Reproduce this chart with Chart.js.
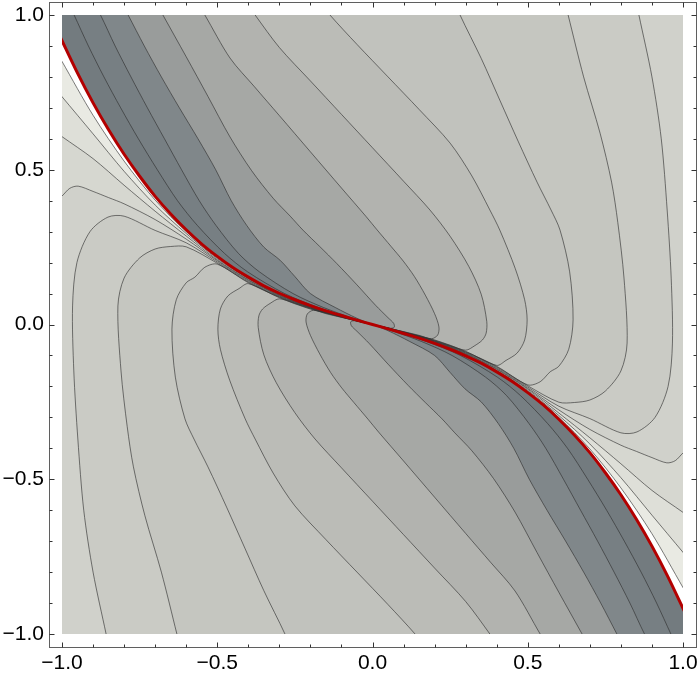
<!DOCTYPE html>
<html><head><meta charset="utf-8">
<script src="https://cdn.jsdelivr.net/npm/chart.js@4.4.1/dist/chart.umd.min.js"></script>
<style>html,body{margin:0;padding:0;background:#fff;}canvas{display:block;}</style>
</head><body>
<canvas id="c" width="700" height="676"></canvas>
<script>
// ---- data (x, y pairs) ----
const plotRange = [-1, 1];
const majorTicks = [-1, -0.5, 0, 0.5, 1];
const minorTicks = [-0.9,-0.8,-0.7,-0.6,-0.4,-0.3,-0.2,-0.1,0.1,0.2,0.3,0.4,0.6,0.7,0.8,0.9];

const redCurve = [[-1.02,0.96],[-1,0.917],[-0.95,0.812],[-0.9,0.716],[-0.85,0.629],[-0.8,0.55],[-0.75,0.479],[-0.7,0.414],[-0.65,0.357],[-0.6,0.306],[-0.55,0.26],[-0.5,0.22],[-0.45,0.184],[-0.4,0.153],[-0.35,0.125],[-0.3,0.101],[-0.25,0.08],[-0.2,0.061],[-0.15,0.044],[-0.1,0.029],[-0.05,0.014],[0,0],[0.05,-0.014],[0.1,-0.029],[0.15,-0.044],[0.2,-0.061],[0.25,-0.08],[0.3,-0.101],[0.35,-0.125],[0.4,-0.153],[0.45,-0.184],[0.5,-0.22],[0.55,-0.26],[0.6,-0.306],[0.65,-0.357],[0.7,-0.414],[0.75,-0.479],[0.8,-0.55],[0.85,-0.629],[0.9,-0.716],[0.95,-0.812],[1,-0.917],[1.02,-0.96]];

// upper-half contours, darkest side first
const U1 = [[-0.98,1.04],[-0.961,1.0],[-0.915,0.9],[-0.865,0.8],[-0.811,0.7],[-0.754,0.6],[-0.693,0.5],[-0.628,0.4],[-0.564,0.32],[-0.477,0.23],[-0.402,0.17],[-0.283,0.1],[-0.174,0.055],[-0.067,0.02],[0,0]];
const U2 = [[-0.9,1.04],[-0.876,1.0],[-0.829,0.9],[-0.778,0.8],[-0.725,0.7],[-0.67,0.6],[-0.615,0.5],[-0.558,0.4],[-0.504,0.32],[-0.432,0.23],[-0.364,0.17],[-0.256,0.1],[-0.158,0.055],[-0.062,0.02],[0,0]];
const U3 = [[-0.808,1.04],[-0.787,1.0],[-0.735,0.9],[-0.68,0.8],[-0.622,0.7],[-0.562,0.6],[-0.505,0.5],[-0.455,0.4],[-0.405,0.32],[-0.35,0.25],[-0.298,0.208],[-0.25,0.155],[-0.2,0.1],[-0.12,0.055],[-0.05,0.02],[0,0]];
const U4 = [[-0.697,1.04],[-0.675,1.0],[-0.6,0.865],[-0.53,0.737],[-0.459,0.606],[-0.39,0.498],[-0.32,0.408],[-0.265,0.35],[-0.224,0.305],[-0.17,0.252],[-0.115,0.197],[-0.05,0.128],[0.01,0.062],[0.05,0.022],[0.068,0.004],[0.07,-0.009],[0.058,-0.012],[0.03,-0.0055],[0,0]];
const U5 = [[-0.565,1.04],[-0.54,1.0],[-0.459,0.861],[-0.38,0.768],[-0.3,0.675],[-0.2,0.558],[-0.1,0.441],[-0.02,0.348],[0.0145,0.306],[0.06,0.252],[0.099,0.205],[0.135,0.155],[0.17,0.095],[0.2,0.035],[0.214,-0.008],[0.21,-0.034],[0.19,-0.046],[0.15,-0.035],[0.1,-0.023],[0.05,-0.0118],[0,0]];
const U6 = [[-0.405,1.04],[-0.378,1.0],[-0.3,0.895],[-0.2,0.787],[-0.1,0.679],[0,0.571],[0.1,0.463],[0.185,0.37],[0.25,0.285],[0.31,0.188],[0.35,0.098],[0.368,0.01],[0.366,-0.028],[0.354,-0.05],[0.33,-0.068],[0.3,-0.083],[0.25,-0.067],[0.2,-0.05],[0.1,-0.0236],[0.05,-0.0113],[0,0]];
const U7 = [[-0.167,1.04],[-0.137,1.0],[-0.05,0.905],[0.05,0.8],[0.15,0.695],[0.25,0.586],[0.32,0.48],[0.378,0.37],[0.41,0.305],[0.46,0.18],[0.49,0.08],[0.498,0.015],[0.49,-0.05],[0.466,-0.092],[0.43,-0.116],[0.4,-0.132],[0.3,-0.0866],[0.2,-0.0514],[0.1,-0.0242],[0.05,-0.0116],[0,0]];
const U8 = [[0.268,1.04],[0.282,1.0],[0.35,0.86],[0.41,0.725],[0.47,0.59],[0.53,0.46],[0.575,0.37],[0.604,0.305],[0.635,0.17],[0.646,0.015],[0.632,-0.08],[0.6,-0.135],[0.572,-0.153],[0.54,-0.185],[0.5,-0.195],[0.4,-0.135],[0.3,-0.0884],[0.2,-0.0526],[0.1,-0.0248],[0.05,-0.0119],[0,0]];
const U9 = [[0.62,1.04],[0.63,1.0],[0.68,0.8],[0.733,0.618],[0.77,0.46],[0.79,0.33],[0.81,0.15],[0.82,-0.06],[0.8,-0.15],[0.75,-0.215],[0.7,-0.244],[0.65,-0.252],[0.6,-0.251],[0.5,-0.198],[0.4,-0.137],[0.3,-0.09],[0.2,-0.0538],[0.1,-0.0254],[0.05,-0.0122],[0,0]];
const U10 = [[0.85,1.04],[0.858,1.0],[0.9,0.8],[0.93,0.6],[0.949,0.37],[0.962,0.15],[0.966,-0.06],[0.952,-0.2],[0.91,-0.3],[0.852,-0.347],[0.8,-0.35],[0.7,-0.304],[0.6,-0.264],[0.5,-0.202],[0.4,-0.14],[0.3,-0.092],[0.2,-0.055],[0.1,-0.026],[0.05,-0.0125],[0,0]];
const UF = [[1.04,-0.38],[1.0,-0.415],[0.975,-0.44],[0.948,-0.447],[0.9,-0.43],[0.85,-0.41],[0.8,-0.39],[0.7,-0.339],[0.6,-0.276],[0.5,-0.206],[0.4,-0.143],[0.3,-0.094],[0.2,-0.056],[0.1,-0.027],[0.05,-0.013],[0,0]];
const G1 = [[1.04,-0.636],[1.0,-0.607],[0.9,-0.536],[0.8,-0.45],[0.7,-0.366],[0.6,-0.286],[0.5,-0.209],[0.4,-0.145],[0.3,-0.0956],[0.2,-0.0574],[0.1,-0.0272],[0.05,-0.0132],[0,0]];
const G2 = [[1.04,-0.784],[1.0,-0.736],[0.9,-0.616],[0.8,-0.495],[0.7,-0.386],[0.6,-0.294],[0.5,-0.213],[0.4,-0.148],[0.3,-0.0974],[0.2,-0.0586],[0.1,-0.0278],[0.05,-0.0135],[0,0]];
const G3 = [[1.04,-0.92],[1.0,-0.85],[0.9,-0.676],[0.8,-0.528],[0.7,-0.402],[0.6,-0.3],[0.5,-0.2164],[0.4,-0.1504],[0.3,-0.0992],[0.2,-0.0598],[0.1,-0.0284],[0.05,-0.0137],[0,0]];

// lower-half contours, darkest side first
const V1 = [[0.98,-1.04],[0.961,-1.0],[0.915,-0.9],[0.865,-0.8],[0.811,-0.7],[0.754,-0.6],[0.693,-0.5],[0.628,-0.4],[0.564,-0.32],[0.477,-0.23],[0.402,-0.17],[0.283,-0.1],[0.174,-0.055],[0.067,-0.02],[0,0]];
const V2 = [[0.9,-1.04],[0.876,-1.0],[0.829,-0.9],[0.778,-0.8],[0.725,-0.7],[0.67,-0.6],[0.615,-0.5],[0.558,-0.4],[0.504,-0.32],[0.432,-0.23],[0.364,-0.17],[0.256,-0.1],[0.158,-0.055],[0.062,-0.02],[0,0]];
const V3 = [[0.808,-1.04],[0.787,-1.0],[0.735,-0.9],[0.68,-0.8],[0.622,-0.7],[0.562,-0.6],[0.505,-0.5],[0.455,-0.4],[0.405,-0.32],[0.35,-0.25],[0.298,-0.208],[0.25,-0.155],[0.2,-0.1],[0.12,-0.055],[0.05,-0.02],[0,0]];
const V4 = [[0.697,-1.04],[0.675,-1.0],[0.6,-0.865],[0.53,-0.737],[0.459,-0.606],[0.39,-0.498],[0.32,-0.408],[0.265,-0.35],[0.224,-0.305],[0.17,-0.252],[0.115,-0.197],[0.05,-0.128],[-0.01,-0.062],[-0.05,-0.022],[-0.068,-0.004],[-0.07,0.009],[-0.058,0.012],[-0.03,0.0055],[0,0]];
const V5 = [[0.565,-1.04],[0.54,-1.0],[0.459,-0.861],[0.38,-0.768],[0.3,-0.675],[0.2,-0.558],[0.1,-0.441],[0.02,-0.348],[-0.0145,-0.306],[-0.06,-0.252],[-0.099,-0.205],[-0.135,-0.155],[-0.17,-0.095],[-0.2,-0.035],[-0.214,0.008],[-0.21,0.034],[-0.19,0.046],[-0.15,0.035],[-0.1,0.023],[-0.05,0.0118],[0,0]];
const V6 = [[0.405,-1.04],[0.378,-1.0],[0.3,-0.895],[0.2,-0.787],[0.1,-0.679],[0,-0.571],[-0.1,-0.463],[-0.185,-0.37],[-0.25,-0.285],[-0.31,-0.188],[-0.35,-0.098],[-0.368,-0.01],[-0.366,0.028],[-0.354,0.05],[-0.33,0.068],[-0.3,0.083],[-0.25,0.067],[-0.2,0.05],[-0.1,0.0236],[-0.05,0.0113],[0,0]];
const V7 = [[0.167,-1.04],[0.137,-1.0],[0.05,-0.905],[-0.05,-0.8],[-0.15,-0.695],[-0.25,-0.586],[-0.32,-0.48],[-0.378,-0.37],[-0.41,-0.305],[-0.46,-0.18],[-0.49,-0.08],[-0.498,-0.015],[-0.49,0.05],[-0.466,0.092],[-0.43,0.116],[-0.4,0.132],[-0.3,0.0866],[-0.2,0.0514],[-0.1,0.0242],[-0.05,0.0116],[0,0]];
const V8 = [[-0.268,-1.04],[-0.282,-1.0],[-0.35,-0.86],[-0.41,-0.725],[-0.47,-0.59],[-0.53,-0.46],[-0.575,-0.37],[-0.604,-0.305],[-0.635,-0.17],[-0.646,-0.015],[-0.632,0.08],[-0.6,0.135],[-0.572,0.153],[-0.54,0.185],[-0.5,0.195],[-0.4,0.135],[-0.3,0.0884],[-0.2,0.0526],[-0.1,0.0248],[-0.05,0.0119],[0,0]];
const V9 = [[-0.62,-1.04],[-0.63,-1.0],[-0.68,-0.8],[-0.733,-0.618],[-0.77,-0.46],[-0.79,-0.33],[-0.81,-0.15],[-0.82,0.06],[-0.8,0.15],[-0.75,0.215],[-0.7,0.244],[-0.65,0.252],[-0.6,0.251],[-0.5,0.198],[-0.4,0.137],[-0.3,0.09],[-0.2,0.0538],[-0.1,0.0254],[-0.05,0.0122],[0,0]];
const V10 = [[-0.85,-1.04],[-0.858,-1.0],[-0.9,-0.8],[-0.93,-0.6],[-0.949,-0.37],[-0.962,-0.15],[-0.966,0.06],[-0.952,0.2],[-0.91,0.3],[-0.852,0.347],[-0.8,0.35],[-0.7,0.304],[-0.6,0.264],[-0.5,0.202],[-0.4,0.14],[-0.3,0.092],[-0.2,0.055],[-0.1,0.026],[-0.05,0.0125],[0,0]];
const VF = [[-1.04,0.38],[-1.0,0.415],[-0.975,0.44],[-0.948,0.447],[-0.9,0.43],[-0.85,0.41],[-0.8,0.39],[-0.7,0.339],[-0.6,0.276],[-0.5,0.206],[-0.4,0.143],[-0.3,0.094],[-0.2,0.056],[-0.1,0.027],[-0.05,0.013],[0,0]];
const H1 = [[-1.04,0.636],[-1.0,0.607],[-0.9,0.536],[-0.8,0.45],[-0.7,0.366],[-0.6,0.286],[-0.5,0.209],[-0.4,0.145],[-0.3,0.0956],[-0.2,0.0574],[-0.1,0.0272],[-0.05,0.0132],[0,0]];
const H2 = [[-1.04,0.784],[-1.0,0.736],[-0.9,0.616],[-0.8,0.495],[-0.7,0.386],[-0.6,0.294],[-0.5,0.213],[-0.4,0.148],[-0.3,0.0974],[-0.2,0.0586],[-0.1,0.0278],[-0.05,0.0135],[0,0]];
const H3 = [[-1.04,0.92],[-1.0,0.85],[-0.9,0.676],[-0.8,0.528],[-0.7,0.402],[-0.6,0.3],[-0.5,0.2164],[-0.4,0.1504],[-0.3,0.0992],[-0.2,0.0598],[-0.1,0.0284],[-0.05,0.0137],[0,0]];

// band colours on the dark side of each contour (darkest first)
const bandColors = ['#737b7f','#777f83','#80878a','#999c9b','#a6a8a5','#b2b3af','#bbbcb7','#c1c2bd','#c5c6c0','#cacbc5','#d0d1cb','#d6d7d0','#dedfd8','#e9eae3'];
const upperContours = [U1,U2,U3,U4,U5,U6,U7,U8,U9,U10,UF,G1,G2,G3];
const lowerContours = [V1,V2,V3,V4,V5,V6,V7,V8,V9,V10,VF,H1,H2,H3];

// ---- build the library's datasets ----
const toXY = a => a.map(p => ({x: p[0], y: p[1]}));
const redLeft = redCurve.filter(p => p[0] <= 0).reverse();   // origin -> upper-left end
const redRight = redCurve.filter(p => p[0] >= 0);            // origin -> lower-right end
const OUT = 1.12;
function upperPoly(path) {
  const p0 = path[0];
  const tail = p0[1] > 1 ? [[-OUT, OUT], [p0[0], OUT]] : [[-OUT, OUT], [OUT, OUT], [OUT, p0[1]]];
  return [...path, ...redLeft.slice(1), ...tail, p0];
}
function lowerPoly(path) {
  const p0 = path[0];
  const tail = p0[1] < -1 ? [[OUT, -OUT], [p0[0], -OUT]] : [[OUT, -OUT], [-OUT, -OUT], [-OUT, p0[1]]];
  return [...path, ...redRight.slice(1), ...tail, p0];
}
const TENSION = 0.3;
const layers = [];
for (let k = upperContours.length - 1; k >= 0; k--) {
  layers.push({data: toXY(upperPoly(upperContours[k])), backgroundColor: bandColors[k], fill: 'shape'});
  layers.push({data: toXY(lowerPoly(lowerContours[k])), backgroundColor: bandColors[k], fill: 'shape'});
}
const polyDatasets = layers.map(l => Object.assign({
  showLine: true, borderColor: 'rgba(0,0,0,0)', borderWidth: 0.01, pointRadius: 0, tension: TENSION
}, l));
const lineDatasets = [...upperContours, ...lowerContours].map(c => ({
  data: toXY(c), showLine: true, fill: false, borderColor: 'rgba(45,45,45,0.62)', borderWidth: 1,
  pointRadius: 0, tension: TENSION
}));
const redDataset = {data: toXY(redCurve), showLine: true, fill: false, borderColor: '#b30000',
  borderWidth: 3, pointRadius: 0, tension: TENSION};
const allSets = [...polyDatasets, ...lineDatasets, redDataset];
allSets.forEach((d, i) => { d.order = allSets.length - i; });

const fmt = v => (v < 0 ? '\u2212' : '') + Math.abs(v).toFixed(1);
const FONT = {family: "'Liberation Sans', Arial, sans-serif", size: 21};

const framePlugin = {
  id: 'framePlugin',
  beforeDatasetsDraw(chart) {
    const {ctx, scales: {x, y}} = chart;
    const l = x.getPixelForValue(plotRange[0]), r = x.getPixelForValue(plotRange[1]);
    const t = y.getPixelForValue(plotRange[1]), b = y.getPixelForValue(plotRange[0]);
    ctx.save();
    ctx.beginPath(); ctx.rect(l, t, r - l, b - t); ctx.clip();
  },
  afterDatasetsDraw(chart) { chart.ctx.restore(); },
  afterDraw(chart) {
    const {ctx, chartArea: a, scales: {x, y}} = chart;
    const L = Math.round(a.left) + 0.5, R = Math.round(a.right) - 0.5;
    const T = Math.round(a.top) + 0.5, B = Math.round(a.bottom) - 0.5;
    ctx.save();
    ctx.strokeStyle = '#5f5f5f'; ctx.lineWidth = 1;
    ctx.strokeRect(L, T, R - L, B - T);
    const draw = (vals, len) => {
      vals.forEach(v => {
        const px = Math.round(x.getPixelForValue(v)) + 0.5;
        const py = Math.round(y.getPixelForValue(v)) + 0.5;
        ctx.beginPath();
        ctx.moveTo(px, B); ctx.lineTo(px, B - len);
        ctx.moveTo(px, T); ctx.lineTo(px, T + len);
        ctx.moveTo(L, py); ctx.lineTo(L + len, py);
        ctx.moveTo(R, py); ctx.lineTo(R - len, py);
        ctx.stroke();
      });
    };
    ctx.strokeStyle = '#333';
    draw(majorTicks, 5);
    draw(minorTicks, 3);
    ctx.restore();
  }
};

new Chart(document.getElementById('c'), {
  type: 'scatter',
  data: {datasets: allSets},
  options: {
    responsive: false, animation: false, devicePixelRatio: 1, events: [],
    layout: {padding: {left: 0, right: 3, top: 2, bottom: 0}},
    plugins: {legend: {display: false}, tooltip: {enabled: false}},
    scales: {
      x: {
        type: 'linear', min: -1.0419, max: 1.0451,
        grid: {display: false, drawTicks: false}, border: {display: false},
        ticks: {autoSkip: false, maxRotation: 0, padding: 3, color: '#000', font: FONT, callback: v => fmt(v)},
        afterBuildTicks: s => { s.ticks = majorTicks.map(v => ({value: v})); },
        afterFit: s => { s.height = 28; s.paddingLeft = 0; s.paddingRight = 0; }
      },
      y: {
        type: 'linear', min: -1.0452, max: 1.042,
        grid: {display: false, drawTicks: false}, border: {display: false},
        ticks: {autoSkip: false, padding: 5, color: '#000', font: FONT, callback: v => fmt(v)},
        afterBuildTicks: s => { s.ticks = majorTicks.map(v => ({value: v})); },
        afterFit: s => { s.width = 49; s.paddingTop = 0; s.paddingBottom = 0; }
      }
    }
  },
  plugins: [framePlugin]
});
</script></body></html>
